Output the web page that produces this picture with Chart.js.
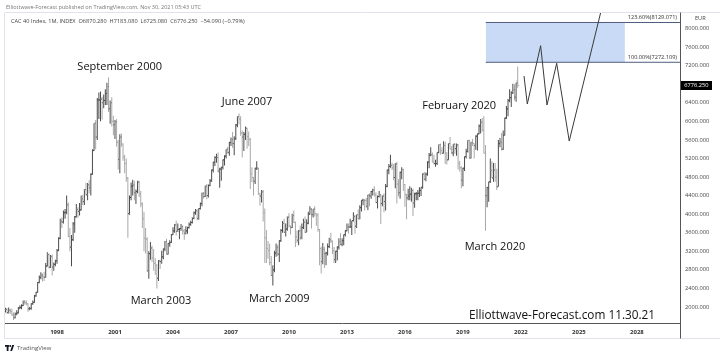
<!DOCTYPE html>
<html><head><meta charset="utf-8">
<script src="https://cdn.jsdelivr.net/npm/chart.js@4.4.0/dist/chart.umd.min.js"></script>
<style>
html,body{margin:0;padding:0;background:#fff;}
#wrap{position:relative;width:720px;height:356px;overflow:hidden;font-family:"Open Sans",sans-serif;}
#c{position:absolute;left:0;top:0;}
.t{position:absolute;white-space:nowrap;line-height:1;}
.ann{font-size:11px;color:#111;transform:translate(-50%,-50%);}
</style></head><body>
<div id="wrap">
<canvas id="c" width="720" height="356"></canvas>
<div class="t" style="left:6px;top:4.5px;font-size:5.5px;color:#777;">Elliottwave-Forecast published on TradingView.com, Nov 30, 2021 05:43 UTC</div>
<div class="t" style="left:11px;top:19px;font-size:5.6px;color:#444;">CAC 40 Index, 1M, INDEX&nbsp; O6870.280&nbsp; H7183.080&nbsp; L6725.080&nbsp; C6776.250&nbsp; −54.090 (−0.79%)</div>
<div class="t ann" style="left:119.7px;top:65px;">September 2000</div>
<div class="t ann" style="left:161px;top:299px;">March 2003</div>
<div class="t ann" style="left:247px;top:100.3px;">June 2007</div>
<div class="t ann" style="left:279.3px;top:297px;">March 2009</div>
<div class="t ann" style="left:459.2px;top:103.5px;">February 2020</div>
<div class="t ann" style="left:495px;top:245.2px;">March 2020</div>
<div class="t ann" style="left:562px;top:314.8px;font-size:11.8px;">Elliottwave-Forecast.com 11.30.21</div>
<div class="t" style="left:695px;top:15.5px;font-size:5.6px;color:#444;">EUR</div>
<div class="t" id="fib0" style="font-size:5.6px;color:#333;"></div>
<div class="t" id="fib1" style="font-size:5.6px;color:#333;"></div>
<div class="t" id="price" style="left:681px;width:31px;height:9px;background:#000;color:#fff;font-size:5.7px;line-height:9px;text-align:center;"></div>
<svg style="position:absolute;left:5px;top:344.5px;" width="11" height="6" viewBox="0 0 11 6">
<rect x="0" y="0" width="4.2" height="1.8" fill="#131722"/><rect x="1.7" y="0" width="1.8" height="6" fill="#131722"/>
<circle cx="5.3" cy="1" r="0.9" fill="#131722"/><polygon points="7.2,0 9.2,0 7,6 5.2,6" fill="#131722"/>
</svg>
<div class="t" style="left:17px;top:344.5px;font-size:6px;color:#555;">TradingView</div>
</div>
<script>
// Monthly CAC 40 bars, first bar = May 1995
const startYear = 1995, startMonth = 4;
const opens = [
1900,1950,1880,1930,1900,1830,1770,1850,
1872,1980,1990,2030,2110,2090,2070,1960,1970,2070,2100,2240,
2316,2530,2640,2690,2650,2640,2880,3130,2860,3090,2860,2920,
2999,3220,3480,3850,3830,4030,4040,4200,3520,3290,3450,3790,
3943,4100,4060,4090,4330,4270,4530,4420,4630,4570,4860,5370,
5958,5660,6460,6460,6480,6400,6450,6600,6750,6270,6400,6000,
5926,5990,5550,5180,5660,5510,5230,5090,4780,4010,4360,4600,
4624,4460,4490,4690,4440,4220,3900,3480,3460,2780,3150,3270,
3064,2940,2900,2620,2990,2980,3080,3250,3410,3140,3370,3390,
3558,3640,3770,3630,3670,3690,3730,3640,3590,3640,3710,3780,
3821,3910,4030,4070,3910,4120,4230,4450,4380,4600,4400,4620,
4715,4950,5120,5220,5220,4930,4970,5010,5170,5250,5400,5330,
5542,5610,5520,5630,5920,6100,6050,5750,5660,5720,5850,5670,
5614,4870,4790,4710,4990,4990,4430,4390,4480,4030,3490,3260,
3218,2960,2680,2800,3160,3280,3140,3430,3650,3800,3610,3680,
3936,3740,3710,3970,3820,3510,3440,3640,3490,3710,3830,3610,
3805,4000,4110,3990,4110,4010,3980,3670,3260,2980,3240,3150,
3160,3300,3450,3420,3210,3020,3200,3290,3410,3350,3430,3560,
3641,3730,3720,3730,3860,3950,3740,3990,3900,4140,4300,4300,
4296,4170,4410,4390,4490,4520,4420,4250,4380,4420,4230,4390,
4273,4600,4950,5030,5050,5000,4790,5080,4650,4460,4900,4960,
4637,4420,4350,4390,4430,4510,4240,4440,4440,4450,4510,4580,
4862,4750,4860,5120,5270,5280,5120,5090,5090,5330,5500,5370,
5313,5480,5320,5170,5520,5400,5320,5510,5410,5490,5090,5000,
4731,4990,5240,5350,5590,5210,5540,5520,5480,5680,5730,5900,
5978,5810,5310,4400,4570,4700,4940,4780,4950,4800,4590,5520,
5551,5400,5700,6070,6270,6450,6510,6610,6680,6520,6870.28
];
const highs = [
1985,1975,1990,1960,1960,1880,1880,1930,
2000,2040,2060,2140,2150,2140,2080,2000,2080,2140,2260,2330,
2540,2680,2750,2720,2760,2950,3180,3150,3120,3130,2960,3020,
3250,3500,3900,3930,4080,4110,4400,4250,3700,3550,3830,3960,
4220,4150,4240,4400,4420,4540,4670,4670,4730,4880,5400,5960,
6030,6500,6620,6640,6530,6580,6690,6830,6944,6450,6520,6120,
6030,6050,5600,5720,5740,5520,5280,5200,4800,4400,4680,4740,
4720,4530,4720,4720,4500,4250,4050,3700,3500,3200,3400,3320,
3250,3050,2920,3010,3020,3210,3260,3420,3470,3380,3440,3570,
3720,3790,3860,3800,3700,3790,3760,3680,3740,3730,3820,3860,
3930,4060,4110,4110,4130,4250,4460,4480,4620,4650,4640,4760,
4960,5130,5250,5300,5330,5000,5020,5180,5270,5400,5450,5560,
5650,5770,5680,5940,6110,6168,6110,5800,5770,5890,5860,5780,
5640,5010,4800,5000,5140,5000,4460,4520,4520,4120,3660,3420,
3360,3100,2900,3210,3370,3340,3440,3680,3850,3900,3800,3950,
4020,3760,4010,4080,3840,3650,3660,3750,3800,3900,3950,3890,
4050,4170,4130,4110,4170,4020,4020,3680,3300,3380,3300,3190,
3370,3490,3600,3430,3290,3210,3310,3480,3590,3480,3560,3660,
3800,3800,3900,3860,4040,3990,3990,4100,4190,4300,4330,4320,
4350,4420,4450,4500,4550,4600,4470,4400,4500,4430,4400,4450,
4650,4960,5080,5280,5110,5080,5100,5130,4750,4920,5010,4980,
4650,4440,4550,4600,4570,4550,4460,4480,4520,4580,4580,4880,
4910,4900,5140,5320,5440,5330,5280,5170,5330,5500,5520,5440,
5570,5560,5330,5530,5660,5470,5510,5520,5520,5510,5150,5030,
5000,5240,5410,5590,5600,5560,5620,5530,5700,5740,5930,6050,
6070,6111,5490,4590,4700,5200,5140,5100,5100,4980,5600,5640,
5750,5800,6080,6330,6480,6690,6650,6810,6800,6830,7183.08
];
const lows = [
1880,1850,1860,1850,1810,1720,1750,1820,
1860,1950,1950,2020,2050,2040,1900,1930,1940,2050,2090,2220,
2310,2510,2600,2550,2560,2630,2870,2830,2840,2680,2780,2880,
2930,3200,3460,3700,3800,3900,4000,3500,3200,2880,3420,3600,
3930,3920,3970,4080,4200,4200,4400,4300,4450,4400,4850,5360,
5400,5600,6050,6000,6040,6280,6350,6350,6200,5950,5890,5700,
5620,5460,4960,4880,5450,5150,4880,4700,3490,3990,4300,4400,
4300,4220,4450,4370,4150,3700,3200,3150,2760,2610,3020,2970,
2780,2690,2401,2560,2820,2930,3030,3200,3130,3130,3300,3380,
3550,3600,3540,3620,3460,3640,3560,3450,3560,3580,3690,3750,
3800,3890,3990,3870,3880,4100,4170,4330,4370,4320,4360,4600,
4700,4900,5040,5110,4900,4570,4720,4960,5050,5200,5300,5260,
5470,5430,5270,5600,5870,5930,5690,5220,5360,5600,5410,5470,
4540,4690,4400,4650,4950,4420,4180,4250,3840,2950,2950,3040,
2900,2680,2465,2750,3080,3100,2970,3400,3600,3600,3520,3640,
3720,3560,3700,3810,3290,3380,3330,3450,3460,3680,3600,3610,
3780,3990,3690,3930,3950,3750,3620,2900,2720,2920,2840,2900,
3110,3270,3380,3140,2950,2950,3000,3240,3330,3310,3330,3520,
3630,3580,3700,3550,3840,3580,3700,3900,3890,4060,4190,4080,
4140,4090,4170,4330,4400,4380,4240,4120,4360,3790,4170,4040,
4080,4580,4860,5000,4950,4730,4560,4230,4380,4330,4750,4500,
4160,3890,4300,4300,4270,3960,4140,4300,4300,4370,4390,4550,
4730,4710,4830,4990,5250,5120,5070,5020,5060,5310,5280,5300,
5300,5080,5070,5160,5400,5290,5250,5300,5260,4960,4920,4560,
4600,4930,5200,5330,5200,5200,5470,5200,5390,5370,5720,5740,
5780,5310,3640,4150,4270,4670,4780,4700,4700,4520,4590,5440,
5370,5380,5700,6050,6110,6410,6310,6590,6450,6420,6725.08
];
const closes = [
1950,1880,1930,1900,1830,1770,1850,1872,
1980,1990,2030,2110,2090,2070,1960,1970,2070,2100,2240,2316,
2530,2640,2690,2650,2640,2880,3130,2860,3090,2860,2920,2999,
3220,3480,3850,3830,4030,4040,4200,3520,3290,3450,3790,3943,
4100,4060,4090,4330,4270,4530,4420,4630,4570,4860,5370,5958,
5660,6460,6460,6480,6400,6450,6600,6750,6270,6400,6000,5926,
5990,5550,5180,5660,5510,5230,5090,4780,4010,4360,4600,4624,
4460,4490,4690,4440,4220,3900,3480,3460,2780,3150,3270,3064,
2940,2900,2620,2990,2980,3080,3250,3410,3140,3370,3390,3558,
3640,3770,3630,3670,3690,3730,3640,3590,3640,3710,3780,3821,
3910,4030,4070,3910,4120,4230,4450,4380,4600,4400,4620,4715,
4950,5120,5220,5220,4930,4970,5010,5170,5250,5400,5330,5542,
5610,5520,5630,5920,6100,6050,5750,5660,5720,5850,5670,5614,
4870,4790,4710,4990,4990,4430,4390,4480,4030,3490,3260,3218,
2960,2680,2800,3160,3280,3140,3430,3650,3800,3610,3680,3936,
3740,3710,3970,3820,3510,3440,3640,3490,3710,3830,3610,3805,
4000,4110,3990,4110,4010,3980,3670,3260,2980,3240,3150,3160,
3300,3450,3420,3210,3020,3200,3290,3410,3350,3430,3560,3641,
3730,3720,3730,3860,3950,3740,3990,3900,4140,4300,4300,4296,
4170,4410,4390,4490,4520,4420,4250,4380,4420,4230,4390,4273,
4600,4950,5030,5050,5000,4790,5080,4650,4460,4900,4960,4637,
4420,4350,4390,4430,4510,4240,4440,4440,4450,4510,4580,4862,
4750,4860,5120,5270,5280,5120,5090,5090,5330,5500,5370,5313,
5480,5320,5170,5520,5400,5320,5510,5410,5490,5090,5000,4731,
4990,5240,5350,5590,5210,5540,5520,5480,5680,5730,5900,5978,
5810,5310,4400,4570,4700,4940,4780,4950,4800,4590,5520,5551,
5400,5700,6070,6270,6450,6510,6610,6680,6520,6830,6776.25
];
// projected wave path (year, value)
const projYears  = [2022.16, 2022.33, 2023.02, 2023.35, 2023.85, 2024.50, 2026.12];
const projValues = [6976, 6373, 7629, 6352, 7250, 5576, 8333];
// Fibonacci extension zone
const fibLevels = [8129.071, 7272.109];
const fibLabels = ['123.60%(8129.071)', '100.00%(7272.109)'];
const fibStartYear = 2020.18, fibBoxEndYear = 2027.38;
// axis ticks
const xTickYears = [1998, 2001, 2004, 2007, 2010, 2013, 2016, 2019, 2022, 2025, 2028];
const yTickValues = [2000, 2400, 2800, 3200, 3600, 4000, 4400, 4800, 5200, 5600, 6000, 6400, 6800, 7200, 7600, 8000];
const xMin = 1995.31, xMax = 2030.23;
const yMin = 1633.8, yMax = 8333.5;

const months = opens.map((_, i) => { const m = startMonth + i; return startYear + Math.floor(m / 12) + (m % 12) / 12; });
const UP = '#4a4a4a', DOWN = '#a8a8a8';
const barColors = closes.map((c, i) => c >= opens[i] ? UP : DOWN);

const ohlcTicks = {
  id: 'ohlcTicks',
  afterDatasetsDraw(chart) {
    const meta = chart.getDatasetMeta(0), ys = chart.scales.y, ctx = chart.ctx, a = chart.chartArea;
    ctx.save();
    ctx.beginPath(); ctx.rect(a.left, a.top, a.right - a.left, a.bottom - a.top); ctx.clip();
    meta.data.forEach((el, i) => {
      ctx.fillStyle = barColors[i];
      ctx.fillRect(el.x - 1.5, ys.getPixelForValue(opens[i]) - 0.5, 1, 1);
      ctx.fillRect(el.x + 0.5, ys.getPixelForValue(closes[i]) - 0.5, 1, 1);
    });
    ctx.restore();
  }
};
const frame = {
  id: 'frame',
  afterDraw(chart) {
    const ctx = chart.ctx, a = chart.chartArea;
    ctx.save();
    ctx.lineWidth = 1;
    ctx.strokeStyle = '#e0e3eb';
    ctx.beginPath();
    ctx.moveTo(4.5, 12.5); ctx.lineTo(720, 12.5);
    ctx.moveTo(4.5, 12.5); ctx.lineTo(4.5, 338.5);
    ctx.moveTo(4.5, 338.5); ctx.lineTo(720, 338.5);
    ctx.stroke();
    ctx.strokeStyle = '#555';
    ctx.beginPath();
    ctx.moveTo(a.left, a.bottom - 0.5); ctx.lineTo(a.right, a.bottom - 0.5);
    ctx.moveTo(a.right + 0.5, 12.5); ctx.lineTo(a.right + 0.5, 338.5);
    ctx.stroke();
    ctx.restore();
  }
};

const lineBase = { type: 'line', pointRadius: 0, borderWidth: 1, tension: 0, fill: false };
const chart = new Chart(document.getElementById('c'), {
  type: 'bar',
  data: { datasets: [
    { type: 'bar', data: months.map((x, i) => ({ x, y: [lows[i], highs[i]] })), backgroundColor: barColors,
      barThickness: 1, inflateAmount: 0, grouped: false, order: 3 },
    Object.assign({}, lineBase, { data: [{x: fibStartYear, y: fibLevels[0]}, {x: fibBoxEndYear, y: fibLevels[0]}],
      borderWidth: 0, fill: '+1', backgroundColor: 'rgba(190,212,245,0.85)', order: 5 }),
    Object.assign({}, lineBase, { data: [{x: fibStartYear, y: fibLevels[1]}, {x: fibBoxEndYear, y: fibLevels[1]}],
      borderWidth: 0, order: 6 }),
    Object.assign({}, lineBase, { data: [{x: fibStartYear, y: fibLevels[0]}, {x: xMax, y: fibLevels[0]}], borderColor: '#4f5d7e', order: 2 }),
    Object.assign({}, lineBase, { data: [{x: fibStartYear, y: fibLevels[1]}, {x: xMax, y: fibLevels[1]}], borderColor: '#4f5d7e', order: 2 }),
    Object.assign({}, lineBase, { data: projYears.map((x, i) => ({ x, y: projValues[i] })), borderColor: '#3a3a3a', order: 1 })
  ]},
  options: {
    responsive: false, animation: false, devicePixelRatio: 1,
    layout: { padding: { left: 5, top: 13, right: 0, bottom: 0 } },
    plugins: { legend: { display: false }, tooltip: { enabled: false } },
    scales: {
      x: { type: 'linear', min: xMin, max: xMax, offset: false,
        grid: { display: false, drawTicks: false, offset: false }, border: { display: false },
        afterFit(s) { s.height = 32; },
        afterBuildTicks(s) { s.ticks = xTickYears.map(v => ({ value: v })); },
        ticks: { autoSkip: false, maxRotation: 0, padding: 5,
          color: '#333', font: { family: 'Open Sans', size: 6, weight: 'bold' },
          callback: v => String(v) } },
      y: { type: 'linear', position: 'right', min: yMin, max: yMax,
        grid: { display: false, drawTicks: false }, border: { display: false },
        afterFit(s) { s.width = 40; },
        afterBuildTicks(s) { s.ticks = yTickValues.map(v => ({ value: v })); },
        ticks: { autoSkip: false, padding: 5, color: '#444',
          font: { family: 'Open Sans', size: 5.7 },
          callback: v => (v === 6800 ? '' : v.toFixed(3)) } }
    }
  },
  plugins: [ohlcTicks, frame]
});

// overlays tied to the scales
const ys = chart.scales.y;
fibLabels.forEach((t, i) => {
  const el = document.getElementById('fib' + i);
  el.textContent = t;
  el.style.right = (720 - 677) + 'px';
  el.style.top = (ys.getPixelForValue(fibLevels[i]) - 7) + 'px';
});
const pr = document.getElementById('price');
pr.textContent = closes[closes.length - 1].toFixed(3);
pr.style.top = (ys.getPixelForValue(closes[closes.length - 1]) - 4) + 'px';
</script>
</body></html>
